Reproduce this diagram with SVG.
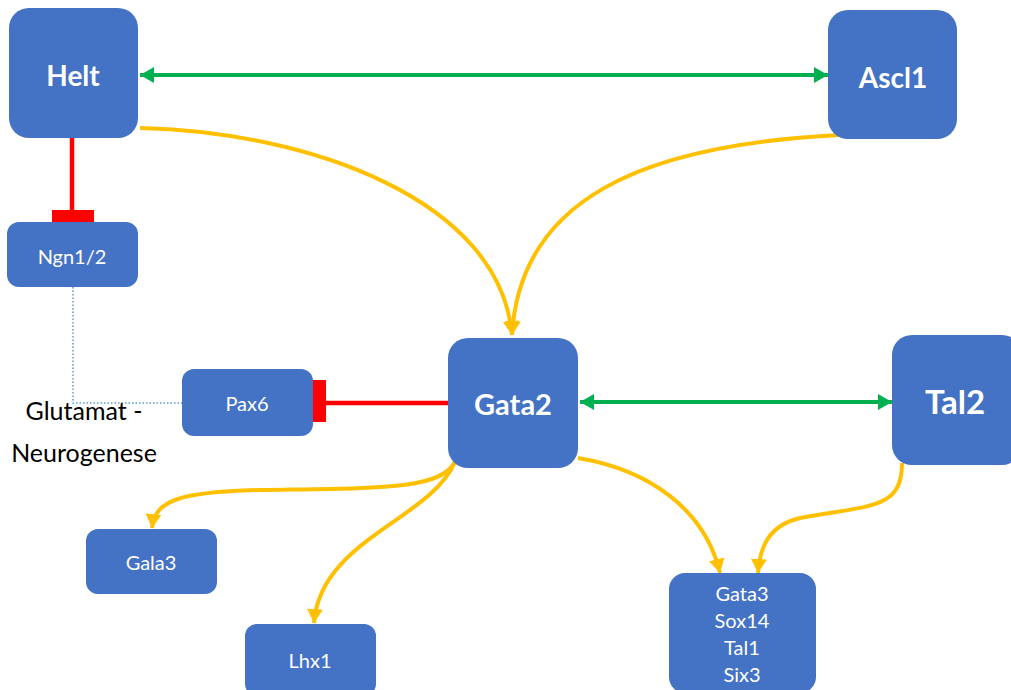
<svg xmlns="http://www.w3.org/2000/svg" width="1011" height="690" viewBox="0 0 1011 690">
<style>
.n{fill:#4472C4}
.t{fill:#fff;font-family:Lato,"Open Sans",sans-serif;text-anchor:middle;dominant-baseline:central}
.b{font-weight:bold}
.y{fill:none;stroke:#FFC000;stroke-width:4}
.g{fill:none;stroke:#00B050;stroke-width:4}
.r{fill:none;stroke:#FF0000;stroke-width:4.5}
.lbl{fill:#000;font-family:Lato,"Open Sans",sans-serif;font-size:25px;text-anchor:middle}
</style>
<defs>
<marker id="ya" markerUnits="userSpaceOnUse" markerWidth="16" markerHeight="16" refX="14" refY="8" orient="auto"><path d="M0,0 L14,8 L0,16 z" fill="#FFC000"/></marker>
<marker id="ga" markerUnits="userSpaceOnUse" markerWidth="16" markerHeight="16" refX="14" refY="8" orient="auto-start-reverse"><path d="M0,0 L14,8 L0,16 z" fill="#00B050"/></marker>
</defs>
<rect width="1011" height="690" fill="#fff"/>
<g id="connectors">
<path class="y" d="M140,128 C310,132 500,200 512,335" marker-end="url(#ya)"/>
<path class="y" d="M840,135 C640,145 520,200 512,335" marker-end="url(#ya)"/>
<path class="y" d="M455,462 C440,490 380,488 260,490 C180,492 155,500 152,528" marker-end="url(#ya)"/>
<path class="y" d="M455,462 C430,520 320,540 314,623" marker-end="url(#ya)"/>
<path class="y" d="M578,458 C650,470 705,510 720,573" marker-end="url(#ya)"/>
<path class="y" d="M902,463 C902,510 870,505 800,518 C770,525 760,545 758,573" marker-end="url(#ya)"/>
<path class="g" d="M140,75 L828,75" marker-start="url(#ga)" marker-end="url(#ga)"/>
<path class="g" d="M580,402 L892,402" marker-start="url(#ga)" marker-end="url(#ga)"/>
<path class="r" d="M72,138 L72,211"/>
<rect x="52" y="210" width="42" height="12" fill="#FF0000"/>
<path class="r" d="M448,403 L326,403"/>
<rect x="313" y="380" width="13" height="42" fill="#FF0000"/>
<path d="M73,287 L73,403 L182,403" fill="none" stroke="#5B9BD5" stroke-width="1.5" stroke-dasharray="1.5,2"/>
</g>
<g id="helt"><rect class="n" x="9" y="8" width="129" height="130" rx="20"/><text class="t b" x="73" y="75" font-size="28">Helt</text></g>
<g id="ascl1"><rect class="n" x="828" y="10" width="129" height="129" rx="20"/><text class="t b" x="893" y="77" font-size="28">Ascl1</text></g>
<g id="ngn"><rect class="n" x="7" y="222" width="131" height="65" rx="12"/><text class="t" x="72" y="256" font-size="20">Ngn1/2</text></g>
<g id="pax6"><rect class="n" x="182" y="369" width="131" height="67" rx="12"/><text class="t" x="247" y="403" font-size="20">Pax6</text></g>
<g id="gata2"><rect class="n" x="448" y="338" width="130" height="130" rx="20"/><text class="t b" x="513" y="403" font-size="29">Gata2</text></g>
<g id="tal2"><rect class="n" x="892" y="335" width="130" height="130" rx="20"/><text class="t b" x="955" y="401" font-size="33">Tal2</text></g>
<g id="gala3"><rect class="n" x="86" y="529" width="131" height="65" rx="12"/><text class="t" x="151" y="562" font-size="20">Gala3</text></g>
<g id="lhx1"><rect class="n" x="245" y="624" width="131" height="72" rx="12"/><text class="t" x="310" y="660" font-size="20">Lhx1</text></g>
<g id="group"><rect class="n" x="669" y="573" width="147" height="120" rx="16"/>
<text class="t" x="742" y="593" font-size="20">Gata3</text>
<text class="t" x="742" y="620" font-size="20">Sox14</text>
<text class="t" x="742" y="647" font-size="20">Tal1</text>
<text class="t" x="742" y="674" font-size="20">Six3</text></g>
<g id="label"><text class="lbl" x="84" y="420">Glutamat -</text><text class="lbl" x="84" y="462">Neurogenese</text></g>
</svg>
